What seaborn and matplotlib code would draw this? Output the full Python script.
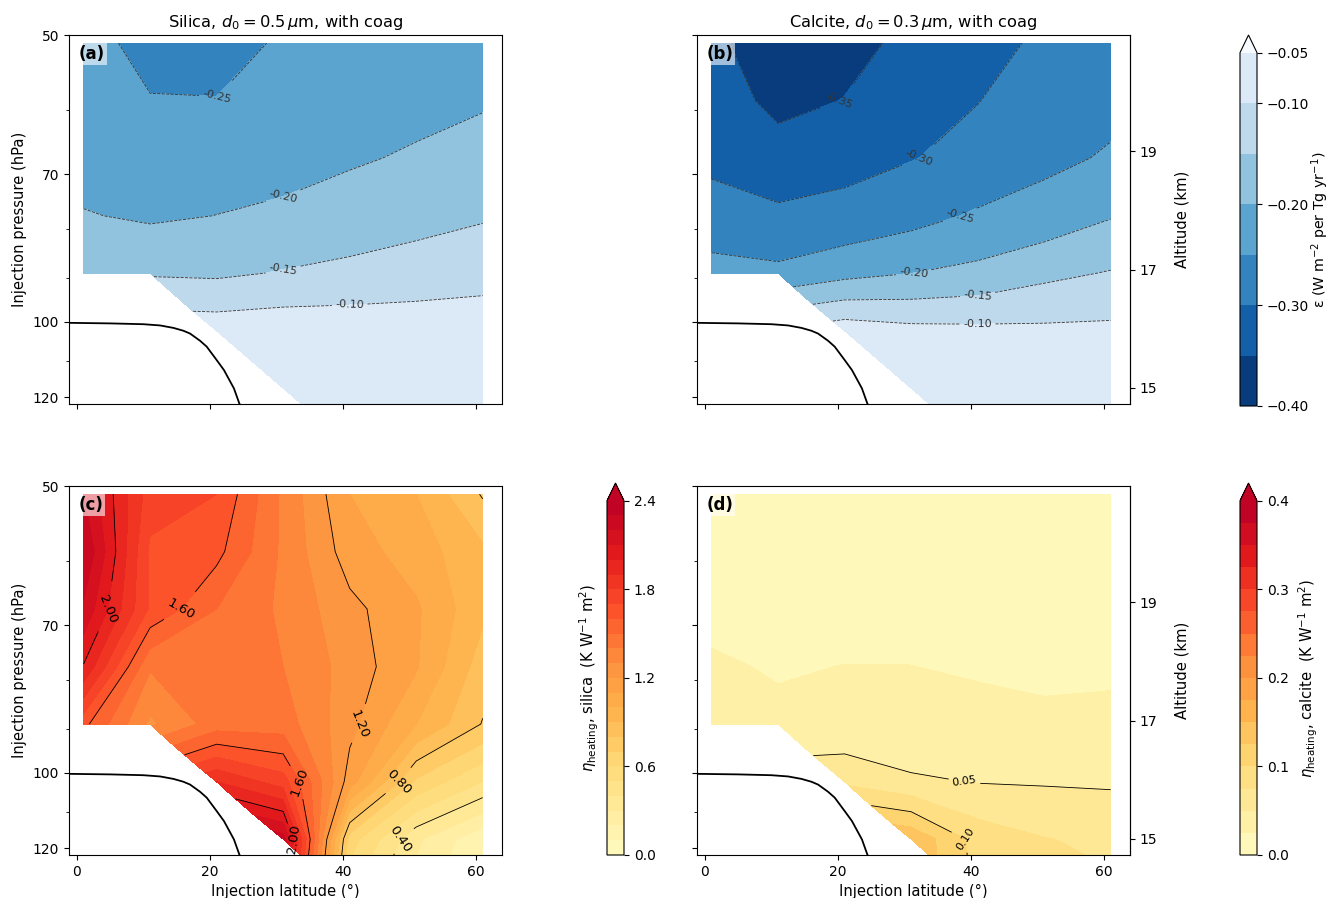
import numpy as np
import matplotlib
matplotlib.use("Agg")
import matplotlib.pyplot as plt
from matplotlib.colors import ListedColormap
from matplotlib.ticker import FixedLocator, NullFormatter, NullLocator, FuncFormatter
import seaborn as sns

sns.set_style("ticks", {"axes.edgecolor": "black", "xtick.color": "black",
                        "ytick.color": "black", "text.color": "black",
                        "axes.labelcolor": "black"})

nan = float("nan")

# Injection grid: latitudes (deg N) and injection pressure levels (hPa)
latitudes = [1, 11, 21, 31, 41, 51, 61]
pressures = [51.0, 58.6, 67.3, 77.4, 88.9, 102.2, 117.4, 134.9]

# Radiative efficiency epsilon (W m-2 per Tg yr-1); rows = pressure, cols = latitude
silica_eps = [
    [-0.228, -0.270, -0.265, -0.245, -0.235, -0.225, -0.215],
    [-0.226, -0.2468, -0.2487, -0.232, -0.222, -0.212, -0.205],
    [-0.220, -0.225, -0.222, -0.215, -0.205, -0.195, -0.180],
    [-0.197, -0.207, -0.1995, -0.192, -0.180, -0.168, -0.155],
    [-0.180, -0.155, -0.158, -0.147, -0.137, -0.125, -0.115],
    [nan, nan, -0.070, -0.065, -0.068, -0.072, -0.075],
    [nan, nan, nan, -0.055, -0.058, -0.060, -0.065],
    [nan, nan, nan, nan, -0.052, -0.055, -0.060],
]
calcite_eps = [
    [-0.335, -0.390, -0.370, -0.335, -0.310, -0.295, -0.280],
    [-0.310, -0.371, -0.348, -0.325, -0.301, -0.280, -0.262],
    [-0.315, -0.316, -0.315, -0.302, -0.285, -0.2614, -0.245],
    [-0.272, -0.295, -0.285, -0.2665, -0.244, -0.2298, -0.203],
    [-0.237, -0.238, -0.215, -0.2005, -0.187, -0.162, -0.147],
    [nan, nan, -0.070, -0.085, -0.088, -0.090, -0.089],
    [nan, nan, nan, -0.065, -0.070, -0.075, -0.075],
    [nan, nan, nan, nan, -0.062, -0.068, -0.070],
]

# Stratospheric heating efficiency eta_heating (K W-1 m2)
silica_eta = [
    [2.20, 1.75, 1.70, 1.38, 1.10, 1.00, 0.79],
    [2.30, 1.68, 1.63, 1.38, 1.15, 1.05, 0.92],
    [2.18, 1.685, 1.50, 1.38, 1.23, 1.115, 0.92],
    [1.99, 1.41, 1.48, 1.40, 1.26, 1.11, 0.85],
    [1.63, 1.28, 1.45, 1.45, 1.233, 1.00, 0.794],
    [nan, nan, 1.90, 1.75, 1.15, 0.68, 0.50],
    [nan, nan, nan, 2.25, 0.65, 0.32, 0.12],
    [nan, nan, nan, nan, 0.50, 0.25, 0.05],
]
calcite_eta = [
    [0.015, 0.015, 0.015, 0.016, 0.016, 0.016, 0.016],
    [0.018, 0.018, 0.018, 0.019, 0.019, 0.019, 0.019],
    [0.022, 0.021, 0.021, 0.022, 0.021, 0.021, 0.021],
    [0.0265, 0.024, 0.0252, 0.0251, 0.024, 0.023, 0.023],
    [0.030, 0.0275, 0.030, 0.030, 0.028, 0.027, 0.028],
    [nan, nan, 0.070, 0.054, 0.049, 0.048, 0.047],
    [nan, nan, nan, 0.145, 0.090, 0.076, 0.070],
    [nan, nan, nan, nan, 0.095, 0.085, 0.080],
]

# Tropopause (hPa) as a function of latitude
trop_lat = [-2.0, 5.0, 10.0, 12.5, 14.5, 16.0, 17.0, 18.5, 19.5, 21.0, 22.1, 23.6, 24.4, 25.0]
trop_p = [100.25, 100.4, 100.6, 100.9, 101.5, 102.2, 102.9, 104.7, 106.2, 109.7,
          112.4, 117.5, 121.8, 124.5]

eps_levels = np.round(np.arange(-0.40, -0.049, 0.05), 2)
eps_ticks = [-0.40, -0.30, -0.20, -0.10, -0.05]
silica_levels = np.round(np.arange(0.0, 2.41, 0.1), 2)
silica_lines = [0.4, 0.8, 1.2, 1.6, 2.0]
silica_ticks = [0.0, 0.6, 1.2, 1.8, 2.4]
calcite_levels = np.round(np.arange(0.0, 0.401, 0.025), 3)
calcite_lines = [0.05, 0.10, 0.15, 0.20]
calcite_ticks = [0.0, 0.1, 0.2, 0.3, 0.4]


def banded_cmap(name, n_bands, over=None):
    base = sns.color_palette(name, as_cmap=True)
    colors = base(np.linspace(0.05, 0.86, n_bands))
    cmap = ListedColormap(colors)
    cmap.set_over(over if over is not None else colors[-1])
    return cmap


blues = banded_cmap("Blues_r", len(eps_levels) - 1, over="#f7fbff")
heat_silica = banded_cmap("YlOrRd", len(silica_levels) - 1)
heat_calcite = banded_cmap("YlOrRd", len(calcite_levels) - 1)

W, H = 1330, 898
fig = plt.figure(figsize=(W / 100, H / 100), dpi=100)
LABEL_FS = 10.6


def box(left, top, right, bottom):
    return [left / W, 1 - bottom / H, (right - left) / W, (bottom - top) / H]


def p_to_z(p):
    p = np.clip(np.asarray(p, dtype=float), 1e-6, None)
    return 7.0 * np.log(1000.0 / p)


def z_to_p(z):
    return 1000.0 * np.exp(-np.asarray(z, dtype=float) / 7.0)


def panel(ax, values, levels, lines, cmap, line_color, label_fs, tag):
    Z = np.array(values, dtype=float)
    cf = ax.contourf(latitudes, pressures, Z, levels=levels, cmap=cmap, extend="max")
    cs = ax.contour(latitudes, pressures, Z, levels=lines, colors=line_color,
                    linewidths=0.6)
    ax.clabel(cs, fmt="%.2f", fontsize=label_fs)
    ax.plot(trop_lat, trop_p, color="black", lw=1.3)
    ax.set_yscale("log")
    ax.set_ylim(122, 50)
    ax.set_xlim(-1.2, 63.9)
    ax.yaxis.set_major_locator(FixedLocator([50, 70, 100, 120]))
    ax.yaxis.set_major_formatter(FuncFormatter(lambda v, pos: f"{v:.0f}"))
    ax.yaxis.set_minor_locator(FixedLocator([60, 80, 90, 110]))
    ax.yaxis.set_minor_formatter(NullFormatter())
    ax.set_xticks([0, 20, 40, 60])
    ax.text(0.022, 0.973, tag, transform=ax.transAxes, ha="left", va="top",
            fontsize=12, fontweight="bold",
            bbox=dict(facecolor="white", alpha=0.6, edgecolor="none", pad=1.5))
    return cf


ax_a = fig.add_axes(box(69, 35, 502, 404))
ax_b = fig.add_axes(box(697, 35, 1130, 404))
ax_c = fig.add_axes(box(69, 486, 502, 855))
ax_d = fig.add_axes(box(697, 486, 1130, 855))

panel(ax_a, silica_eps, eps_levels, eps_levels, blues, "0.2", 8, "(a)")
cf_b = panel(ax_b, calcite_eps, eps_levels, eps_levels, blues, "0.2", 8, "(b)")
cf_c = panel(ax_c, silica_eta, silica_levels, silica_lines, heat_silica, "black", 9.5, "(c)")
cf_d = panel(ax_d, calcite_eta, calcite_levels, calcite_lines, heat_calcite, "black", 8, "(d)")

ax_a.set_title("Silica, $d_0 = 0.5\\,\\mu$m, with coag", fontsize=11.7)
ax_b.set_title("Calcite, $d_0 = 0.3\\,\\mu$m, with coag", fontsize=11.7)

for ax in (ax_a, ax_b):
    ax.tick_params(labelbottom=False)
for ax in (ax_b, ax_d):
    ax.tick_params(axis="y", which="both", labelleft=False)
for ax in (ax_a, ax_c):
    ax.set_ylabel("Injection pressure (hPa)", fontsize=LABEL_FS)
for ax in (ax_c, ax_d):
    ax.set_xlabel("Injection latitude (°)", fontsize=LABEL_FS)

for ax in (ax_b, ax_d):
    sec = ax.secondary_yaxis("right", functions=(p_to_z, z_to_p))
    sec.yaxis.set_major_locator(FixedLocator([15, 17, 19]))
    sec.yaxis.set_major_formatter(FuncFormatter(lambda v, pos: f"{v:.0f}"))
    sec.yaxis.set_minor_locator(NullLocator())
    sec.set_ylabel("Altitude (km)", labelpad=12, fontsize=LABEL_FS)

cax_top = fig.add_axes(box(1240, 35, 1257, 406))
cb_top = fig.colorbar(cf_b, cax=cax_top, ticks=eps_ticks)
cb_top.set_label("ε (W m$^{-2}$ per Tg yr$^{-1}$)", fontsize=10.3, labelpad=0)

cax_c = fig.add_axes(box(607, 483, 624, 855))
cb_c = fig.colorbar(cf_c, cax=cax_c, ticks=silica_ticks)
cb_c.set_label("$\\eta_\\mathrm{heating}$, silica  (K W$^{-1}$ m$^2$)", fontsize=LABEL_FS)
cb_c.ax.yaxis.set_label_position("left")

cax_d = fig.add_axes(box(1240, 483, 1257, 855))
cb_d = fig.colorbar(cf_d, cax=cax_d, ticks=calcite_ticks)
cb_d.set_label("$\\eta_\\mathrm{heating}$, calcite  (K W$^{-1}$ m$^2$)", fontsize=LABEL_FS,
               labelpad=6)

for cb in (cb_top, cb_c, cb_d):
    cb.ax.minorticks_off()

fig.savefig("out.png", dpi=100)
